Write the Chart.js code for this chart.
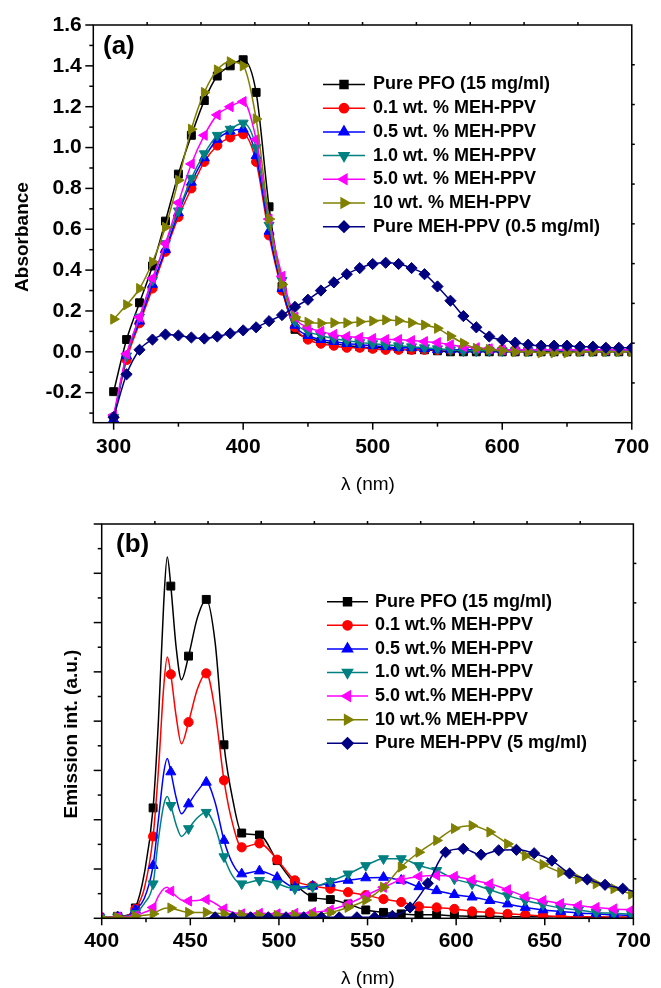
<!DOCTYPE html>
<html>
<head>
<meta charset="utf-8">
<script src="https://cdn.jsdelivr.net/npm/chart.js@4.4.1/dist/chart.umd.min.js"></script>
<style>
  html, body { margin: 0; padding: 0; background: #fff; }
  #wrap { position: relative; width: 661px; height: 988px; }
  canvas { position: absolute; left: 0; }
  #absCanvas { top: 0; }
  #emCanvas { top: 500px; }
</style>
</head>
<body>
<div id="wrap">
  <canvas id="absCanvas" width="661" height="500"></canvas>
  <canvas id="emCanvas" width="661" height="488"></canvas>
</div>
<script>
// ---------- (a) absorbance spectra ----------
const absLabels = [
  'Pure PFO (15 mg/ml)', '0.1 wt. % MEH-PPV', '0.5 wt. % MEH-PPV', '1.0 wt. % MEH-PPV',
  '5.0 wt. % MEH-PPV', '10 wt. % MEH-PPV', 'Pure MEH-PPV (0.5 mg/ml)'
];
const absWl = [
  300, 310, 320, 330, 340, 350, 360, 370, 380, 390,
  400, 410, 420, 430, 440, 450, 460, 470, 480, 490,
  500, 510, 520, 530, 540, 550, 560, 570, 580, 590,
  600, 610, 620, 630, 640, 650, 660, 670, 680, 690,
  700
];
const absPFO = [
  -0.195, 0.06, 0.24, 0.42, 0.64, 0.87, 1.06, 1.23, 1.35, 1.40,
  1.43, 1.27, 0.71, 0.32, 0.11, 0.07, 0.05, 0.04, 0.03, 0.025,
  0.02, 0.02, 0.015, 0.01, 0.01, 0.005, 0.0, 0.0, 0.0, 0.0,
  0.0, 0.0, 0.0, 0.0, 0.0, 0.0, 0.0, 0.0, 0.0, 0.0,
  0.0
];
const absMeh01 = [
  -0.32, -0.04, 0.14, 0.31, 0.49, 0.66, 0.80, 0.93, 1.01, 1.05,
  1.065, 0.93, 0.57, 0.30, 0.12, 0.06, 0.04, 0.03, 0.02, 0.02,
  0.015, 0.01, 0.01, 0.01, 0.01, 0.01, 0.01, 0.01, 0.01, 0.01,
  0.01, 0.01, 0.01, 0.01, 0.01, 0.01, 0.01, 0.01, 0.01, 0.01,
  0.01
];
const absMeh05 = [
  -0.33, -0.02, 0.15, 0.33, 0.50, 0.68, 0.83, 0.95, 1.04, 1.08,
  1.09, 0.96, 0.59, 0.31, 0.13, 0.08, 0.06, 0.05, 0.04, 0.035,
  0.03, 0.025, 0.02, 0.02, 0.015, 0.01, 0.01, 0.01, 0.01, 0.01,
  0.01, 0.01, 0.01, 0.01, 0.01, 0.01, 0.01, 0.01, 0.01, 0.01,
  0.01
];
const absMeh10 = [
  -0.32, -0.02, 0.17, 0.35, 0.53, 0.69, 0.85, 0.97, 1.06, 1.09,
  1.12, 1.00, 0.62, 0.35, 0.15, 0.10, 0.08, 0.065, 0.055, 0.045,
  0.04, 0.035, 0.03, 0.025, 0.02, 0.015, 0.01, 0.005, 0.005, 0.005,
  0.005, 0.005, 0.005, 0.005, 0.005, 0.005, 0.005, 0.005, 0.005, 0.005,
  0.005
];
const absMeh50 = [
  -0.31, -0.01, 0.17, 0.36, 0.53, 0.73, 0.92, 1.06, 1.16, 1.20,
  1.225, 1.04, 0.65, 0.37, 0.17, 0.12, 0.10, 0.085, 0.075, 0.07,
  0.065, 0.06, 0.06, 0.055, 0.05, 0.045, 0.035, 0.025, 0.02, 0.015,
  0.01, 0.01, 0.01, 0.01, 0.01, 0.01, 0.01, 0.01, 0.01, 0.01,
  0.01
];
const absMeh100 = [
  0.16, 0.23, 0.31, 0.44, 0.61, 0.84, 1.09, 1.27, 1.38, 1.42,
  1.40, 1.14, 0.65, 0.33, 0.17, 0.145, 0.14, 0.142, 0.142, 0.147,
  0.151, 0.156, 0.152, 0.142, 0.131, 0.115, 0.077, 0.042, 0.017, 0.012,
  0.005, 0.0, 0.0, -0.005, -0.005, -0.005, 0.0, 0.0, 0.0, 0.0,
  0.0
];
const absMehPure = [
  -0.32, -0.11, 0.01, 0.06, 0.085, 0.08, 0.07, 0.065, 0.075, 0.09,
  0.105, 0.12, 0.15, 0.18, 0.22, 0.255, 0.30, 0.34, 0.38, 0.41,
  0.43, 0.436, 0.43, 0.41, 0.38, 0.32, 0.25, 0.175, 0.12, 0.075,
  0.058, 0.045, 0.035, 0.03, 0.03, 0.03, 0.025, 0.025, 0.02, 0.02,
  0.02
];
const absXTicks = [300, 400, 500, 600, 700];
const absYTicks = [-0.2, 0.0, 0.2, 0.4, 0.6, 0.8, 1.0, 1.2, 1.4, 1.6];

// ---------- (b) emission spectra ----------
const emLabels = [
  'Pure PFO (15 mg/ml)', '0.1 wt.% MEH-PPV', '0.5 wt.% MEH-PPV', '1.0 wt.% MEH-PPV',
  '5.0 wt.% MEH-PPV', '10 wt.% MEH-PPV', 'Pure MEH-PPV (5 mg/ml)'
];
const emWl = [
  399, 404, 409, 414, 419, 424, 429, 432, 435, 437,
  439, 442, 445, 449, 454, 459, 464, 469, 474, 479,
  489, 499, 509, 519, 529, 539, 549, 559, 569, 579,
  589, 599, 609, 619, 629, 639, 649, 659, 669, 679,
  689, 699
];
const emPFO = [
  0.02, 0.02, 0.04, 0.06, 0.21, 0.9, 2.24, 4.0, 6.4, 7.33,
  6.74, 5.5, 4.84, 5.32, 6.1, 6.47, 5.6, 3.52, 2.4, 1.73,
  1.69, 1.17, 0.70, 0.43, 0.38, 0.29, 0.17, 0.12, 0.09, 0.07,
  0.07, 0.05, 0.04, 0.04, 0.03, 0.03, 0.03, 0.03, 0.02, 0.02,
  0.02, 0.02
];
const emMeh01 = [
  0.02, 0.02, 0.03, 0.05, 0.19, 0.6, 1.66, 3.0, 4.7, 5.30,
  4.95, 4.1, 3.54, 3.98, 4.65, 4.97, 4.2, 2.80, 1.9, 1.44,
  1.52, 1.19, 0.77, 0.66, 0.60, 0.53, 0.47, 0.39, 0.33, 0.24,
  0.22, 0.19, 0.14, 0.12, 0.09, 0.07, 0.05, 0.04, 0.03, 0.03,
  0.02, 0.02
];
const emMeh05 = [
  0.02, 0.02, 0.03, 0.04, 0.17, 0.4, 1.07, 2.0, 2.95, 3.24,
  2.97, 2.45, 2.12, 2.32, 2.58, 2.76, 2.35, 1.58, 1.1, 0.90,
  0.96, 0.83, 0.63, 0.65, 0.71, 0.77, 0.82, 0.83, 0.77, 0.64,
  0.56, 0.48, 0.43, 0.36, 0.29, 0.22, 0.17, 0.14, 0.11, 0.09,
  0.07, 0.06
];
const emMeh10 = [
  0.02, 0.02, 0.03, 0.04, 0.10, 0.3, 0.70, 1.6, 2.3, 2.47,
  2.29, 1.9, 1.66, 1.82, 2.04, 2.15, 1.85, 1.25, 0.85, 0.70,
  0.77, 0.70, 0.60, 0.64, 0.75, 0.90, 1.07, 1.21, 1.21, 1.07,
  0.97, 0.80, 0.70, 0.58, 0.46, 0.36, 0.28, 0.21, 0.17, 0.12,
  0.10, 0.08
];
const emMeh50 = [
  0.02, 0.02, 0.02, 0.03, 0.05, 0.12, 0.22, 0.45, 0.6, 0.63,
  0.55, 0.45, 0.37, 0.35, 0.36, 0.38, 0.3, 0.19, 0.12, 0.09,
  0.10, 0.09, 0.10, 0.12, 0.17, 0.29, 0.46, 0.63, 0.78, 0.85,
  0.87, 0.85, 0.78, 0.70, 0.58, 0.44, 0.36, 0.30, 0.26, 0.22,
  0.19, 0.17
];
const emMeh100 = [
  0.02, 0.02, 0.02, 0.02, 0.04, 0.06, 0.09, 0.15, 0.2, 0.21,
  0.21, 0.18, 0.15, 0.12, 0.12, 0.12, 0.11, 0.09, 0.08, 0.07,
  0.06, 0.06, 0.06, 0.07, 0.12, 0.22, 0.37, 0.63, 1.04, 1.34,
  1.58, 1.82, 1.88, 1.75, 1.51, 1.27, 1.09, 0.93, 0.80, 0.70,
  0.60, 0.49
];
const emWlMeh = [
  459, 464, 474, 484, 494, 504, 514, 524, 534, 544,
  554, 564, 574, 584, 594, 604, 614, 624, 634, 644,
  654, 664, 674, 684, 694, 700
];
const emMehPure = [
  0.0, 0.02, 0.02, 0.02, 0.02, 0.02, 0.02, 0.02, 0.02, 0.02,
  0.02, 0.05, 0.22, 0.71, 1.34, 1.41, 1.29, 1.38, 1.39, 1.32,
  1.17, 0.91, 0.79, 0.68, 0.60, 0.55
];
const emXTicks = [400, 450, 500, 550, 600, 650, 700];
const emYTicks = [0, 1, 2, 3, 4, 5, 6, 7, 8];

// ---------- series styling ----------
const seriesColors = ['#000000', '#ff0000', '#0000ff', '#008080', '#ff00ff', '#808000', '#000080'];
const seriesMarkers = [
  { style: 'rect', rot: 0, r: 5.6 },
  { style: 'circle', rot: 0, r: 4.6 },
  { style: 'triangle', rot: 0, r: 5.8 },
  { style: 'triangle', rot: 180, r: 5.8 },
  { style: 'triangle', rot: -90, r: 5.8 },
  { style: 'triangle', rot: 90, r: 5.8 },
  { style: 'rectRot', rot: 0, r: 5.6 }
];

Chart.defaults.font.family = "'Liberation Sans', Arial, Helvetica, sans-serif";
Chart.defaults.color = '#000';

// frame, tick marks, titles, panel letter and legend
const decorPlugin = {
  id: 'decor',
  afterDatasetsDraw(chart, args, o) {
    const { ctx, chartArea: a } = chart;
    const xs = chart.scales.x, ys = chart.scales.y;
    ctx.save();
    ctx.strokeStyle = '#000';
    ctx.lineWidth = 1.5;
    ctx.lineCap = 'butt';
    ctx.strokeRect(a.left, a.top, a.right - a.left, a.bottom - a.top);

    const hTicks = (vals, len, atY, dir) => {
      vals.forEach(v => {
        if (v < xs.min - 1e-9 || v > xs.max + 1e-9) return;
        const p = xs.getPixelForValue(v);
        ctx.beginPath(); ctx.moveTo(p, atY); ctx.lineTo(p, atY + dir * len); ctx.stroke();
      });
    };
    const vTicks = (vals, len, atX, dir) => {
      vals.forEach(v => {
        if (v < ys.min - 1e-9 || v > ys.max + 1e-9) return;
        const p = ys.getPixelForValue(v);
        ctx.beginPath(); ctx.moveTo(atX, p); ctx.lineTo(atX + dir * len, p); ctx.stroke();
      });
    };
    const minors = (majors, step) => {
      const out = [];
      for (let v = majors[0] - step / 2; v <= majors[majors.length - 1] + step / 2 + 1e-9; v += step) out.push(+v.toFixed(6));
      return out;
    };
    const xStep = o.xMajor[1] - o.xMajor[0];
    const yStep = o.yMajor[1] - o.yMajor[0];
    hTicks(o.xMajor, 7, a.bottom, 1);
    hTicks(minors(o.xMajor, xStep), 4, a.bottom, 1);
    vTicks(o.yMajor, 8, a.left, -1);
    vTicks(minors(o.yMajor, yStep), 4, a.left, -1);
    // small outer ticks on the top and right edges, ten equal divisions
    const tx = [], ty = [];
    for (let k = 1; k < 10; k++) {
      tx.push(xs.min + k * (xs.max - xs.min) / 10);
      ty.push(ys.min + k * (ys.max - ys.min) / 10);
    }
    hTicks(tx, 3, a.top, -1);
    vTicks(ty, 3, a.right, 1);
    ctx.restore();
  },
  afterDraw(chart, args, o) {
    const ctx = chart.ctx;
    const fam = Chart.defaults.font.family;
    ctx.save();
    ctx.fillStyle = '#000';
    // panel letter
    ctx.font = 'bold 26px ' + fam;
    ctx.textAlign = 'left'; ctx.textBaseline = 'middle';
    ctx.fillText(o.letter.text, o.letter.x, o.letter.y);
    // x title
    ctx.font = '19px ' + fam;
    ctx.textAlign = 'center';
    ctx.fillText(o.xTitle.text, o.xTitle.x, o.xTitle.y);
    // y title
    ctx.save();
    ctx.translate(o.yTitle.x, o.yTitle.y);
    ctx.rotate(-Math.PI / 2);
    ctx.font = 'bold 19px ' + fam;
    ctx.fillText(o.yTitle.text, 0, 0);
    ctx.restore();
    // legend
    const L = o.legend;
    chart.data.datasets.forEach((ds, i) => {
      const y = L.y0 + i * L.dy;
      ctx.strokeStyle = ds.borderColor;
      ctx.fillStyle = ds.borderColor;
      ctx.lineWidth = 1.5;
      ctx.beginPath(); ctx.moveTo(L.x1, y); ctx.lineTo(L.x2, y); ctx.stroke();
      const m = seriesMarkers[i];
      Chart.helpers.drawPoint(ctx, { pointStyle: m.style, rotation: m.rot, radius: m.r, borderWidth: 1 }, (L.x1 + L.x2) / 2, y);
      ctx.fillStyle = '#000';
      ctx.font = 'bold 18px ' + fam;
      ctx.textAlign = 'left'; ctx.textBaseline = 'middle';
      ctx.fillText(ds.label, L.tx, y);
    });
    ctx.restore();
  }
};

function buildDatasets(labels, xsList, series, markerRule) {
  const n = series.length;
  return series.map((vals, i) => {
    const xsArr = xsList[i];
    const m = seriesMarkers[i];
    return {
      label: labels[i],
      data: xsArr.map((x, j) => ({ x: x, y: vals[j] })),
      borderColor: seriesColors[i],
      backgroundColor: seriesColors[i],
      pointBackgroundColor: seriesColors[i],
      pointBorderColor: seriesColors[i],
      pointBorderWidth: 1,
      borderWidth: 1.5,
      pointStyle: m.style,
      pointRotation: m.rot,
      pointRadius: markerRule ? (c => (c.raw && markerRule(i, c.raw.x)) ? m.r : 0) : m.r,
      cubicInterpolationMode: 'monotone',
      order: n - i
    };
  });
}

function scaleOpts(min, max, tickVals, fit, isX, padding, showLabels, fmt) {
  return {
    type: 'linear', min: min, max: max,
    grid: { display: false, drawTicks: false },
    border: { display: false },
    afterBuildTicks: s => { s.ticks = tickVals.map(v => ({ value: v })); },
    afterFit: s => { if (isX) s.height = fit; else s.width = fit; },
    ticks: {
      display: showLabels,
      font: { size: 21, weight: 'bold' },
      color: '#000',
      padding: padding,
      maxRotation: 0,
      autoSkip: false,
      callback: fmt || (v => String(v))
    }
  };
}

// (a)
new Chart(document.getElementById('absCanvas'), {
  type: 'line',
  data: {
    datasets: buildDatasets(absLabels, absLabels.map(() => absWl),
      [absPFO, absMeh01, absMeh05, absMeh10, absMeh50, absMeh100, absMehPure], null)
  },
  options: {
    responsive: false, animation: false, events: [],
    layout: { padding: { top: 25, right: 20, left: 0, bottom: 0 } },
    plugins: {
      legend: { display: false }, tooltip: { enabled: false },
      decor: {
        xMajor: absXTicks, yMajor: absYTicks,
        letter: { text: '(a)', x: 103, y: 47 },
        xTitle: { text: 'λ (nm)', x: 368, y: 485 },
        yTitle: { text: 'Absorbance', x: 23, y: 237 },
        legend: { x1: 323, x2: 365, tx: 373, y0: 84.5, dy: 23.7 }
      }
    },
    scales: {
      x: scaleOpts(284.3, 700, absXTicks, 77.3, true, 11.7, true),
      y: scaleOpts(-0.347, 1.6, absYTicks, 93.3, false, 11.6, true, v => v.toFixed(1))
    }
  },
  plugins: [decorPlugin]
});

// (b)
new Chart(document.getElementById('emCanvas'), {
  type: 'line',
  data: {
    datasets: buildDatasets(emLabels,
      [emWl, emWl, emWl, emWl, emWl, emWl, emWlMeh],
      [emPFO, emMeh01, emMeh05, emMeh10, emMeh50, emMeh100, emMehPure],
      (i, x) => (i === 6 ? x % 10 === 4 : x % 10 === 9))
  },
  options: {
    responsive: false, animation: false, events: [],
    layout: { padding: { top: 24, right: 27.6, left: 0, bottom: 0 } },
    plugins: {
      legend: { display: false }, tooltip: { enabled: false },
      decor: {
        xMajor: emXTicks, yMajor: emYTicks,
        letter: { text: '(b)', x: 116, y: 45 },
        xTitle: { text: 'λ (nm)', x: 368, y: 479 },
        yTitle: { text: 'Emission int. (a.u.)', x: 72, y: 234 },
        legend: { x1: 327, x2: 368, tx: 375, y0: 101.7, dy: 23.6 }
      }
    },
    scales: {
      x: scaleOpts(400, 700, emXTicks, 69.7, true, 10.1, true),
      y: scaleOpts(0, 8, emYTicks, 101.7, false, 8, false)
    }
  },
  plugins: [decorPlugin]
});
</script>
</body>
</html>
